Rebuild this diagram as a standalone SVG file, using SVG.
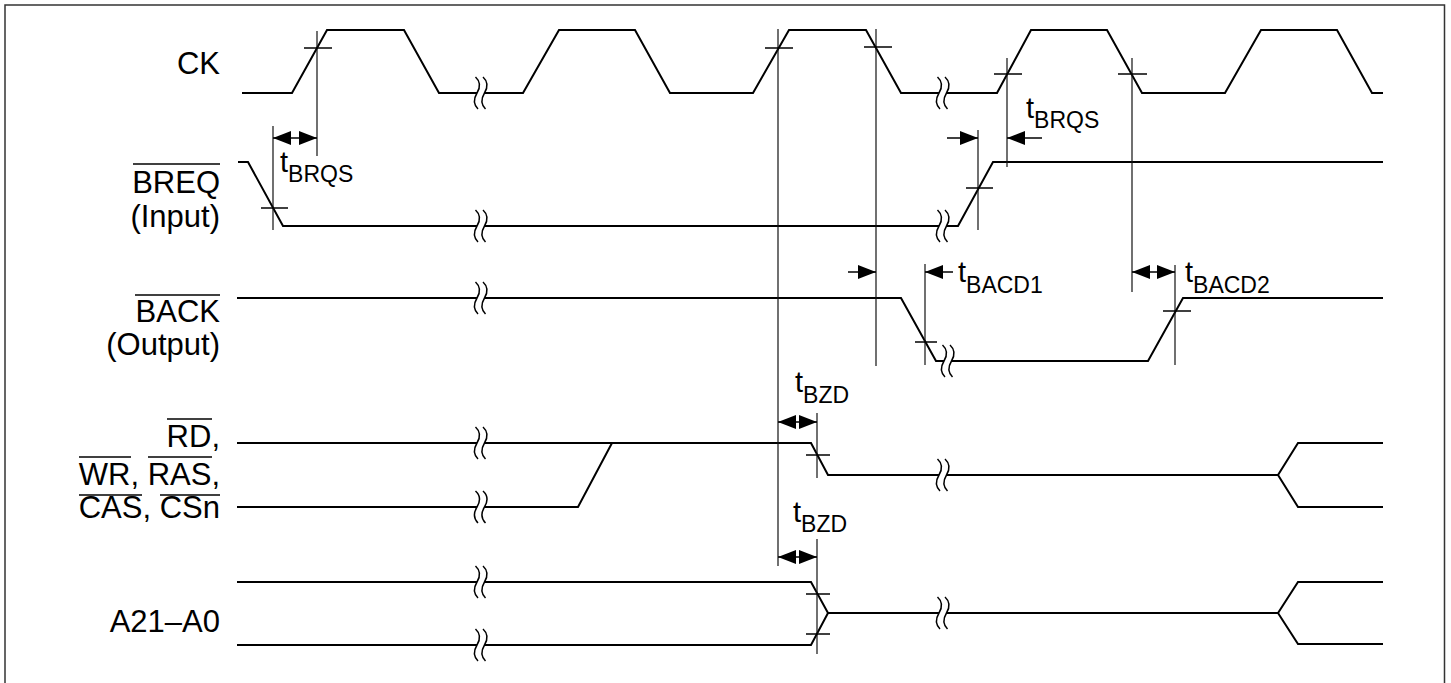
<svg xmlns="http://www.w3.org/2000/svg" xmlns:xlink="http://www.w3.org/1999/xlink" width="1451" height="683" viewBox="0 0 1451 683">
<style>
.sig{fill:none;stroke:#000;stroke-width:2;stroke-linejoin:miter}
.tick{stroke:#000;stroke-width:1.5}
.guide{stroke:#111;stroke-width:1.2}
.ovl{stroke:#000;stroke-width:1.6}
.lbl{font-family:"Liberation Sans",Arial,sans-serif;font-size:31px;fill:#000;text-anchor:end}
.t{font-family:"Liberation Sans",Arial,sans-serif;font-size:29px;fill:#000}
.sub{font-size:23px}
.arr{stroke:#000;stroke-width:1.5;fill:none}
</style>
<defs>
<marker id="ah" markerUnits="userSpaceOnUse" markerWidth="20" markerHeight="16" refX="18" refY="7" orient="auto-start-reverse">
<path d="M0,0 L18,7 L0,14 Z" fill="#000"/>
</marker>
<g id="brk">
<path d="M-4.5,-16 C1,-11 0,-5 -3,0 C-6,5 -7,11 -2,16 L5.5,16 C0.5,11 1.5,5 4.5,0 C7.5,-5 8.5,-11 3,-16 Z" fill="#fff" stroke="none"/>
<path d="M-4.5,-16 C1,-11 0,-5 -3,0 C-6,5 -7,11 -2,16 M3,-16 C8.5,-11 7.5,-5 4.5,0 C1.5,5 0.5,11 5.5,16" fill="none" stroke="#000" stroke-width="1.5"/>
</g>
</defs>
<rect width="1451" height="683" fill="#fff"/>
<path d="M5,683 L5,5 L1444.5,5 L1444.5,683" fill="none" stroke="#333" stroke-width="1.5"/>

<g id="labels">
<text class="lbl" x="220" y="74">CK</text>
<text class="lbl" x="220" y="193">BREQ</text>
<line class="ovl" x1="133" y1="164" x2="220" y2="164"/>
<text class="lbl" x="220" y="227">(Input)</text>
<text class="lbl" x="220" y="322">BACK</text>
<line class="ovl" x1="135" y1="295" x2="220" y2="295"/>
<text class="lbl" x="220" y="355">(Output)</text>
<text class="lbl" x="220" y="447">RD,</text>
<line class="ovl" x1="167" y1="419" x2="212" y2="419"/>
<text class="lbl" x="220" y="485">WR, RAS,</text>
<line class="ovl" x1="79" y1="457" x2="131" y2="457"/>
<line class="ovl" x1="148" y1="457" x2="212" y2="457"/>
<text class="lbl" x="220" y="518">CAS, CSn</text>
<line class="ovl" x1="79" y1="495" x2="142" y2="495"/>
<line class="ovl" x1="160" y1="495" x2="220" y2="495"/>
<text class="lbl" x="220" y="632">A21–A0</text>
</g>

<g id="sig-ck">
<polyline class="sig" points="242,93 292,93 327,30 404,30 439,93 523,93 559,30 635,30 670,93 753,93 789,30 866,30 901,93 997,93 1031,30 1107,30 1142,93 1225,93 1261,30 1337,30 1372,93 1383,93"/>
<use xlink:href="#brk" href="#brk" x="480" y="93"/>
<use xlink:href="#brk" href="#brk" x="942" y="93"/>
</g>

<g id="sig-breq">
<polyline class="sig" points="238,162 248,162 283,226 958,226 993,162 1383,162"/>
<use xlink:href="#brk" href="#brk" x="480" y="226"/>
<use xlink:href="#brk" href="#brk" x="942" y="226"/>
</g>

<g id="sig-back">
<polyline class="sig" points="237,298 901,298 936,361 1148,361 1183,298 1383,298"/>
<use xlink:href="#brk" href="#brk" x="480" y="298"/>
<use xlink:href="#brk" href="#brk" x="947" y="361"/>
</g>

<g id="sig-rd">
<polyline class="sig" points="237,443 811,443 828,475 1278,475 1298,443 1383,443"/>
<polyline class="sig" points="1278,475 1298,507 1383,507"/>
<polyline class="sig" points="237,507 578,507 612,443"/>
<use xlink:href="#brk" href="#brk" x="480" y="443"/>
<use xlink:href="#brk" href="#brk" x="480" y="507"/>
<use xlink:href="#brk" href="#brk" x="942" y="475"/>
</g>

<g id="sig-addr">
<polyline class="sig" points="237,582 811,582 828,613 1278,613 1298,582 1383,582"/>
<polyline class="sig" points="237,645 811,645 828,613"/>
<polyline class="sig" points="1278,613 1298,644 1383,644"/>
<use xlink:href="#brk" href="#brk" x="480" y="582"/>
<use xlink:href="#brk" href="#brk" x="480" y="645"/>
<use xlink:href="#brk" href="#brk" x="942" y="613"/>
</g>

<g id="connectors">
<line class="guide" x1="317" y1="31" x2="317" y2="156"/>
<line class="guide" x1="273" y1="126" x2="273" y2="230"/>
<line class="guide" x1="778" y1="29" x2="778" y2="566"/>
<line class="guide" x1="876" y1="29" x2="876" y2="366"/>
<line class="guide" x1="1007" y1="58" x2="1007" y2="167"/>
<line class="guide" x1="978" y1="130" x2="978" y2="230"/>
<line class="guide" x1="1132" y1="58" x2="1132" y2="292"/>
<line class="guide" x1="925" y1="264" x2="925" y2="365"/>
<line class="guide" x1="1175" y1="265" x2="1175" y2="365"/>
<line class="guide" x1="817" y1="413" x2="817" y2="478"/>
<line class="guide" x1="817" y1="539" x2="817" y2="654"/>
<line class="tick" x1="304" y1="48" x2="332" y2="48"/>
<line class="tick" x1="261" y1="208" x2="288" y2="208"/>
<line class="tick" x1="765" y1="48" x2="793" y2="48"/>
<line class="tick" x1="864" y1="47" x2="892" y2="47"/>
<line class="tick" x1="994" y1="74" x2="1022" y2="74"/>
<line class="tick" x1="1118" y1="74" x2="1147" y2="74"/>
<line class="tick" x1="966" y1="188" x2="993" y2="188"/>
<line class="tick" x1="915" y1="342" x2="937" y2="342"/>
<line class="tick" x1="1163" y1="311" x2="1191" y2="311"/>
<line class="tick" x1="806" y1="455" x2="830" y2="455"/>
<line class="tick" x1="806" y1="594" x2="830" y2="594"/>
<line class="tick" x1="806" y1="634" x2="830" y2="634"/>
<line class="arr" x1="273" y1="138" x2="317" y2="138" marker-start="url(#ah)" marker-end="url(#ah)"/>
<line class="arr" x1="947" y1="138" x2="978" y2="138" marker-end="url(#ah)"/>
<line class="arr" x1="1042" y1="138" x2="1007" y2="138" marker-end="url(#ah)"/>
<line class="arr" x1="848" y1="272" x2="876" y2="272" marker-end="url(#ah)"/>
<line class="arr" x1="953" y1="272" x2="925" y2="272" marker-end="url(#ah)"/>
<line class="arr" x1="1132" y1="272" x2="1175" y2="272" marker-start="url(#ah)" marker-end="url(#ah)"/>
<line class="arr" x1="778" y1="422" x2="817" y2="422" marker-start="url(#ah)" marker-end="url(#ah)"/>
<line class="arr" x1="778" y1="557" x2="817" y2="557" marker-start="url(#ah)" marker-end="url(#ah)"/>
</g>

<g id="timing-labels">
<text class="t" x="280" y="172">t<tspan class="sub" dy="10">BRQS</tspan></text>
<text class="t" x="1026" y="118">t<tspan class="sub" dy="10">BRQS</tspan></text>
<text class="t" x="958" y="282">t<tspan class="sub" dy="11">BACD1</tspan></text>
<text class="t" x="1185" y="282">t<tspan class="sub" dy="11">BACD2</tspan></text>
<text class="t" x="795" y="392">t<tspan class="sub" dy="11">BZD</tspan></text>
<text class="t" x="793" y="522">t<tspan class="sub" dy="10">BZD</tspan></text>
</g>
</svg>
